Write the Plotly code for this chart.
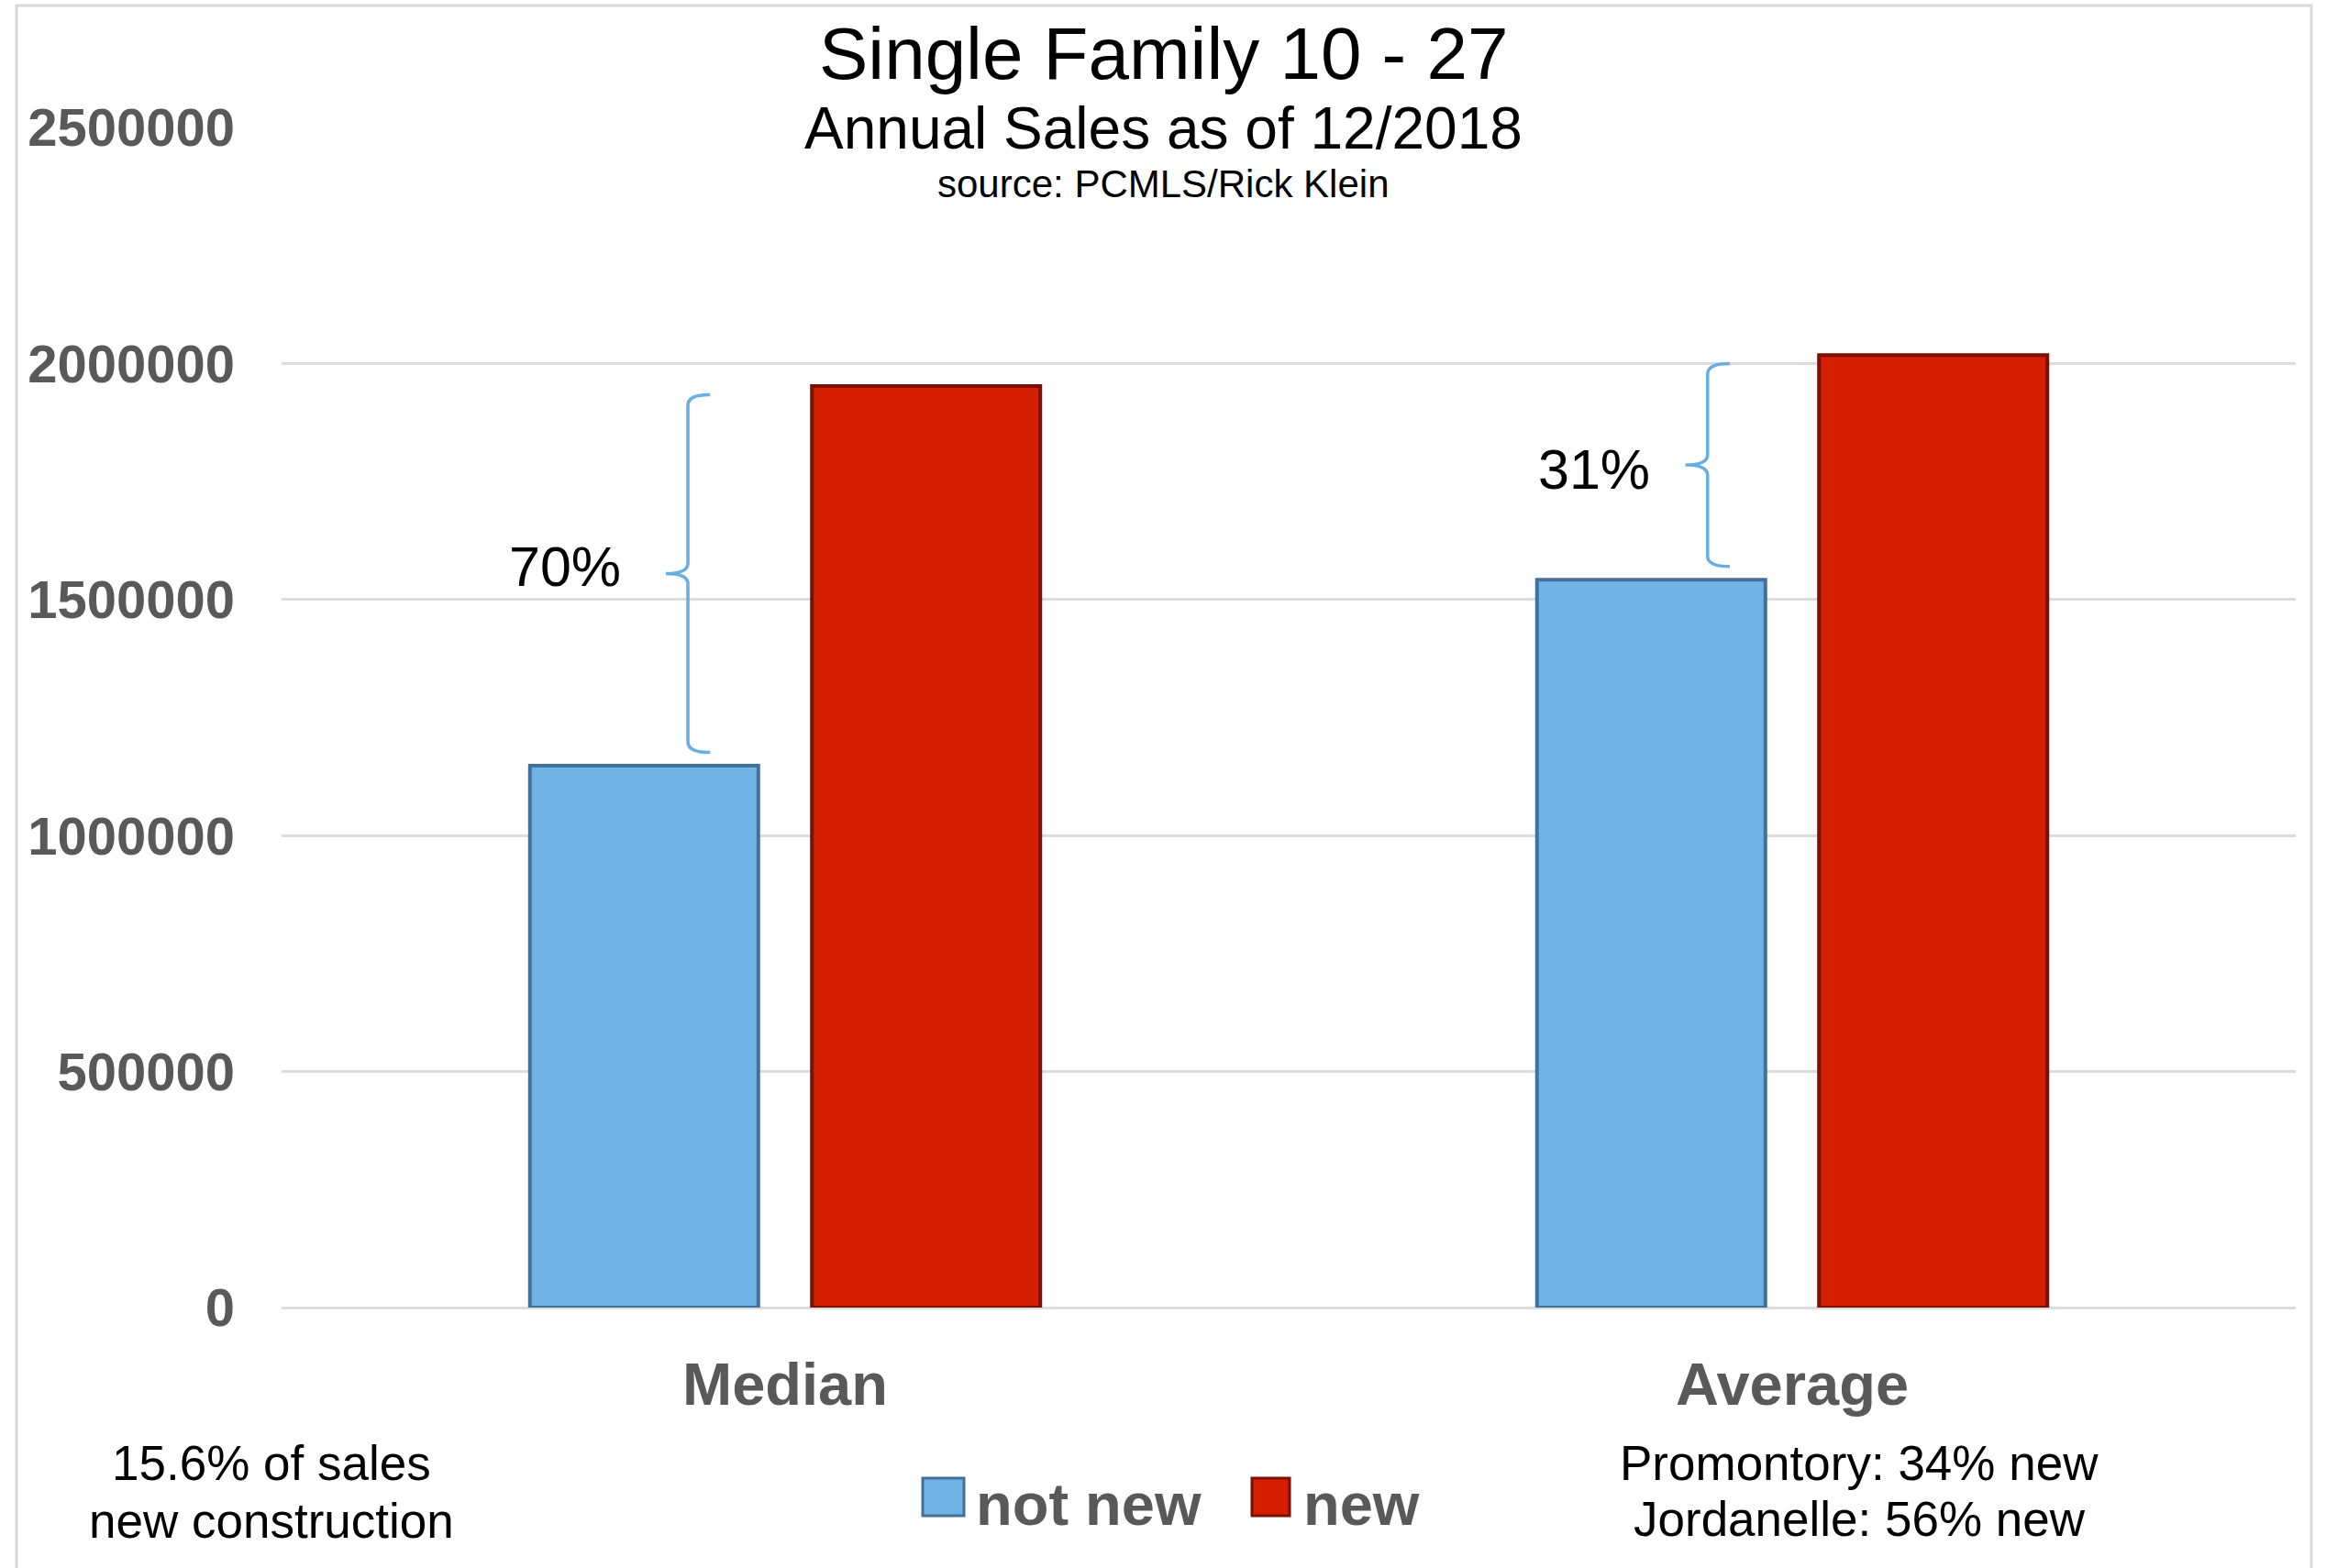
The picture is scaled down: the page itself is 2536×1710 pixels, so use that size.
import plotly.graph_objects as go

# ---------------- data ----------------
categories = ["Median", "Average"]
not_new = [1148000, 1542000]
new = [1952000, 2018000]
series_names = ["not new", "new"]
y_tickvals = [0, 500000, 1000000, 1500000, 2000000, 2500000]
y_ticktext = ["0", "500000", "1000000", "1500000", "2000000", "2500000"]
title_lines = ["Single Family 10 - 27", "Annual Sales as of 12/2018", "source: PCMLS/Rick Klein"]
note_left = ["15.6% of sales", "new construction"]
note_right = ["Promontory: 34% new", "Jordanelle: 56% new"]

# ---------------- layout geometry ----------------
W, H = 2536, 1710
L, R, T, B = 307, 33, 139, 284
PW, PH = W - L - R, H - T - B
FONT = "Liberation Sans, Arial, sans-serif"
GRAY = "#595959"
BLUE, BLUE_EDGE = "#72B3E6", "#44719A"
RED, RED_EDGE = "#D42000", "#7E0E00"
BRACE = "#6AAEE0"
BRACE_X = [-0.0965, -0.084]      # brace line offset from group centre
LABEL_DX = [-0.122, -0.113]      # label offset from brace line
LABEL_DY = [15000, -10000]


def px(xp):
    return (xp - L) / PW


def py(yp):
    return (H - B - yp) / PH


xpos = list(range(len(categories)))

fig = go.Figure()
fig.add_trace(go.Bar(x=xpos, y=not_new, name=series_names[0], showlegend=False,
                     marker=dict(color=BLUE, line=dict(color=BLUE_EDGE, width=4))))
fig.add_trace(go.Bar(x=xpos, y=new, name=series_names[1], showlegend=False,
                     marker=dict(color=RED, line=dict(color=RED_EDGE, width=4))))

shapes = []
annotations = []


def brace_path(xl, xt, xp_, ytop, ybot, r=22000):
    ymid = (ytop + ybot) / 2
    return (f"M {xt},{ytop} Q {xl},{ytop} {xl},{ytop - r} "
            f"L {xl},{ymid + r} Q {xl},{ymid} {xp_},{ymid} "
            f"Q {xl},{ymid} {xl},{ymid - r} "
            f"L {xl},{ybot + r} Q {xl},{ybot} {xt},{ybot}")


for i in xpos:
    xl = i + BRACE_X[i]
    ytop = new[i] - 18000
    ybot = not_new[i] + 28000
    shapes.append(dict(type="path", xref="x", yref="y",
                       path=brace_path(xl, xl + 0.022, xl - 0.022, ytop, ybot),
                       line=dict(color=BRACE, width=3.5)))
    pct = round((new[i] / not_new[i] - 1) * 100)
    annotations.append(dict(x=xl + LABEL_DX[i], y=(ytop + ybot) / 2 + LABEL_DY[i],
                            xref="x", yref="y",
                            text=f"{pct}%", showarrow=False, xanchor="center", yanchor="middle",
                            font=dict(family=FONT, size=61, color="black")))

# outer frame
shapes.append(dict(type="rect", xref="paper", yref="paper",
                   x0=px(18), x1=px(2520), y0=py(1720), y1=py(6),
                   line=dict(color="#D9D9D9", width=3), layer="below"))

# custom legend
for (x0, x1, fc, lc, name, tx) in [(1006, 1051, BLUE, BLUE_EDGE, series_names[0], 1062),
                                   (1365, 1406, RED, RED_EDGE, series_names[1], 1419)]:
    shapes.append(dict(type="rect", xref="paper", yref="paper",
                       x0=px(x0), x1=px(x1), y0=py(1653), y1=py(1612),
                       fillcolor=fc, line=dict(color=lc, width=3)))
    annotations.append(dict(x=px(tx), y=py(1640), xref="paper", yref="paper", text=name,
                            showarrow=False, xanchor="left", yanchor="middle",
                            font=dict(family=FONT, size=65, color=GRAY, weight="bold")))

# titles
for txt, yc, sz in zip(title_lines, [58, 140, 200], [80, 64, 42]):
    annotations.append(dict(x=px(1268), y=py(yc), xref="paper", yref="paper", text=txt,
                            showarrow=False, xanchor="center", yanchor="middle",
                            font=dict(family=FONT, size=sz, color="black")))

# bottom notes
for txt, yc in zip(note_left, [1596, 1658]):
    annotations.append(dict(x=px(296), y=py(yc), xref="paper", yref="paper", text=txt,
                            showarrow=False, xanchor="center", yanchor="middle",
                            font=dict(family=FONT, size=53, color="black")))
for txt, yc in zip(note_right, [1595, 1656]):
    annotations.append(dict(x=px(2027), y=py(yc), xref="paper", yref="paper", text=txt,
                            showarrow=False, xanchor="center", yanchor="middle",
                            font=dict(family=FONT, size=53, color="black")))

fig.update_layout(
    width=W, height=H, autosize=False,
    margin=dict(l=L, r=R, t=T, b=B, pad=0),
    paper_bgcolor="white", plot_bgcolor="white",
    barmode="group", bargap=0.44, bargroupgap=0.19,
    showlegend=False,
    shapes=shapes, annotations=annotations,
    font=dict(family=FONT),
)
fig.update_xaxes(range=[-0.5, len(categories) - 0.5], tickvals=xpos, ticktext=categories,
                 showgrid=False, zeroline=False, showline=False, ticks="",
                 ticklabelstandoff=40,
                 tickfont=dict(family=FONT, size=65, color=GRAY, weight="bold"))
fig.update_yaxes(range=[0, 2500000], tickvals=y_tickvals, ticktext=y_ticktext,
                 showgrid=True, gridcolor="#DCDCDC", gridwidth=3,
                 zeroline=True, zerolinecolor="#DCDCDC", zerolinewidth=3,
                 showline=False, ticks="", ticklabelstandoff=50,
                 tickfont=dict(family=FONT, size=58, color=GRAY, weight="bold"))

fig.write_html("out.html")
